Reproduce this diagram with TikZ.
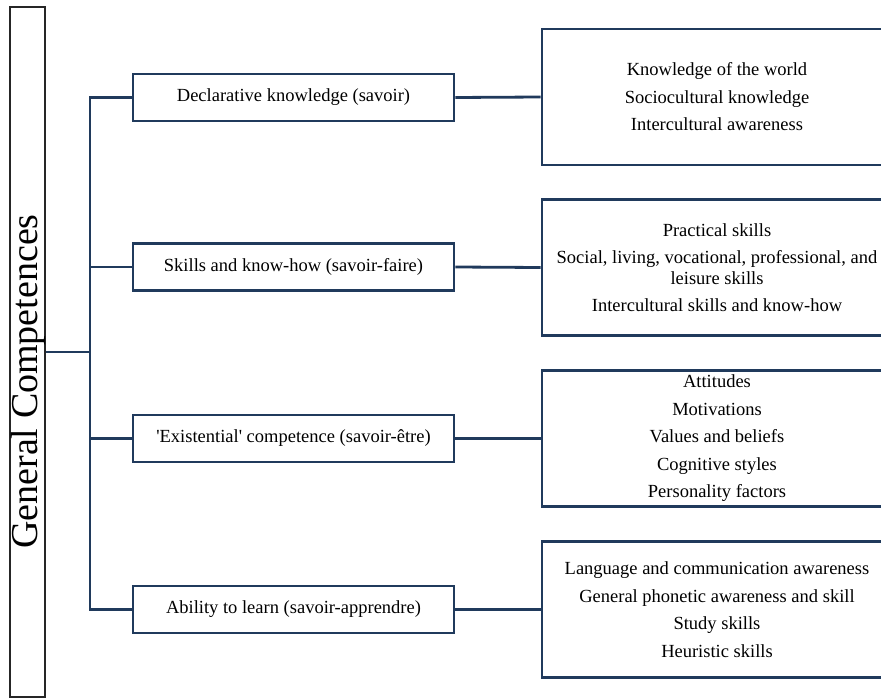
\documentclass[tikz,border=0pt]{standalone}
\usepackage{fontspec}
\setmainfont{Liberation Serif}
% same face without TeX ligatures, for a straight apostrophe
\newfontfamily\rawserif{Liberation Serif}
\newcommand{\sq}{{\rawserif'}}
\definecolor{navy}{HTML}{203A5C}
\definecolor{frame}{HTML}{262626}
\tikzset{
  link/.style={draw=navy, line width=2.8pt},
  midbox/.style={draw=navy, line width=2.8pt, fill=white, minimum width=321pt,
    minimum height=47pt, inner sep=0pt, font=\fontsize{18.5}{20.5}\selectfont},
  itembox/.style={draw=navy, line width=2.8pt, fill=white, minimum width=350pt,
    minimum height=136pt, inner sep=0pt, align=center,
    font=\fontsize{18.5}{20.5}\selectfont},
  titlebox/.style={draw=frame, line width=2.8pt, fill=white,
    minimum width=35pt, minimum height=690pt, inner sep=0pt},
  titletext/.style={rotate=90, inner sep=0pt, anchor=base,
    font=\fontsize{38}{38}\selectfont},
}
\begin{document}
\begin{tikzpicture}[x=1pt, y=-1pt]
\clip (0,0) rectangle (881,698);
\fill[white] (0,0) rectangle (881,698);

% title column
\node[titlebox] (gc) at (27.5,352) {};
\node[titletext] (gct) at (37.5,381.5) {General Competences};

% the four competence groups
\node[midbox] (d1) at (293.5,97.5) {Declarative knowledge (savoir)};
\node[midbox] (d2) at (293.5,267) {Skills and know-how (savoir-faire)};
\node[midbox] (d3) at (293.5,438.5) {\sq Existential\sq\ competence (savoir-être)};
\node[midbox] (d4) at (293.5,609.5) {Ability to learn (savoir-apprendre)};

% their components
\node[itembox] (k1) at (717,97) {Knowledge of the world\\[7pt]Sociocultural knowledge\\[7pt]Intercultural awareness};
\node[itembox] (k2) at (717,267.5) {Practical skills\\[7pt]Social, living, vocational, professional, and\\leisure skills\\[7pt]Intercultural skills and know-how};
\node[itembox] (k3) at (717,438.5) {Attitudes\\[7pt]Motivations\\[7pt]Values and beliefs\\[7pt]Cognitive styles\\[7pt]Personality factors};
\node[itembox] (k4) at (717,609.5) {Language and communication awareness\\[7pt]General phonetic awareness and skill\\[7pt]Study skills\\[7pt]Heuristic skills};

% branching connectors
\coordinate (hub) at (90,352);
\draw[link] (gc.east |- hub) -- (hub);
\draw[link] (hub) |- (d1.west);
\draw[link] (hub) |- (d2.west);
\draw[link] (hub) |- (d3.west);
\draw[link] (hub) |- (d4.west);
\draw[link] (d1.east) -- (k1.west);
\draw[link] (d2.east) -- (k2.west);
\draw[link] (d3.east) -- (k3.west);
\draw[link] (d4.east) -- (k4.west);
\end{tikzpicture}
\end{document}
